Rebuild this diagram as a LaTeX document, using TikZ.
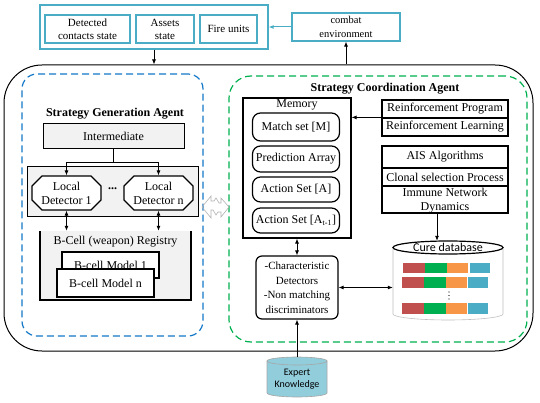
\documentclass[tikz,border=0pt]{standalone}
\usepackage{fontspec}
\setmainfont{Liberation Serif}
\newfontfamily\calib{Carlito}
\usetikzlibrary{shapes.misc,arrows.meta,calc}
\definecolor{teal1}{RGB}{75,172,198}
\definecolor{lgray}{RGB}{242,242,242}
\definecolor{bluedash}{RGB}{20,120,200}
\definecolor{greendash}{RGB}{0,176,80}
\definecolor{cred}{RGB}{192,80,77}
\definecolor{cgreen}{RGB}{0,176,80}
\definecolor{corange}{RGB}{247,150,70}
\definecolor{cblue}{RGB}{75,172,198}
\definecolor{ekc}{RGB}{146,205,220}
\begin{document}
\begin{tikzpicture}[x=1pt,y=-1pt,
  font=\fontsize{12}{14}\selectfont,
  tbox/.style={draw=teal1, line width=1.2pt, inner sep=0pt, align=center, font=\fontsize{11}{13}\selectfont},
  bbox/.style={draw, line width=1.2pt, inner sep=0pt, align=center},
  rbox/.style={bbox, rounded corners=8pt, fill=white},
  title/.style={font=\bfseries\fontsize{12}{14}\selectfont},
  arr/.style={line width=0.8pt, -{Latex[length=5pt,width=4pt]}},
  darr/.style={line width=0.8pt, {Latex[length=5pt,width=4pt]}-{Latex[length=5pt,width=4pt]}},
  bar/.style={draw=black!15, line width=0.4pt}
]
\useasboundingbox (0,0) rectangle (540,403);

% ---- top boxes
\node[draw=teal1, line width=1.2pt, minimum width=228, minimum height=44, inner sep=0] (top) at (154,27) {};
\node[tbox, minimum width=85, minimum height=28] (det) at (87.5,29) {Detected\\contacts state};
\node[tbox, minimum width=58, minimum height=28] (ass) at (165,29) {Assets\\state};
\node[tbox, minimum width=57, minimum height=28] (fire) at (228.5,29) {Fire units};
\node[tbox, minimum width=108, minimum height=28, font=\fontsize{10.5}{13.5}\selectfont] (comb) at (346,27) {combat\\environment};

% ---- main containers
\node[draw, line width=1pt, rounded corners=38pt, minimum width=529, minimum height=286, inner sep=0] (main) at (268.5,208) {};
\node[draw=bluedash, line width=1.2pt, dash pattern=on 7pt off 4pt, rounded corners=15pt, minimum width=181, minimum height=262, inner sep=0] (sga) at (112.5,205) {};
\node[draw=greendash, line width=1.2pt, dash pattern=on 7pt off 4pt, rounded corners=22pt, minimum width=298, minimum height=266, inner sep=0] (sca) at (378,209) {};

\draw[arr] (top.south) -- (top.south |- main.north);
\draw[arr] (comb.south |- main.north) -- (comb.south);
\draw[arr, draw=teal1, line width=1pt] (comb.west) -- (top.east);

% ---- strategy generation agent
\node[title] (sgat) at (115,114) {Strategy Generation Agent};
\node[draw, line width=1pt, fill=lgray, minimum width=141, minimum height=25, inner sep=0] (inter) at (113.5,136.5) {Intermediate};
\node[draw, line width=1pt, fill=lgray, minimum width=171, minimum height=50, inner sep=0] (detc) at (112.5,192) {};
\node[bbox, fill=white, chamfered rectangle, chamfered rectangle xsep=5pt, chamfered rectangle ysep=5pt, minimum width=69, minimum height=34] (ld1) at (66.5,193) {Local\\Detector 1};
\node[bbox, fill=white, chamfered rectangle, chamfered rectangle xsep=5pt, chamfered rectangle ysep=5pt, minimum width=69, minimum height=34] (ldn) at (158.5,193) {Local\\Detector n};
\node (dots) at (112.5,189) {\textbf{...}};
\coordinate (sp) at (113.5,162);
\draw[line width=0.8pt] (inter.south) -- (sp);
\draw[arr] (sp) -| (ld1.north);
\draw[arr] (sp) -| (ldn.north);

\fill[lgray] (40,231) rectangle (191,300);
\draw[line width=1.2pt] (40,231) -- (40,300) -- (191,300) -- (191,231);
\node[minimum width=151, minimum height=69, inner sep=0] (reg) at (115.5,265.5) {};
\node (regt) at (115.5,242) {B-Cell (weapon) Registry};
\draw[darr] (ld1.south) -- (ld1.south |- reg.north);
\draw[darr] (ldn.south) -- (ldn.south |- reg.north);
\node[bbox, fill=white, minimum width=97, minimum height=26] (m1) at (110.5,265) {B-cell Model 1};
\node[bbox, fill=white, minimum width=97, minimum height=28] (mn) at (105.5,283) {B-cell Model n};

% ---- gray zigzag double arrow
\draw[black!30, line width=0.6pt, line join=miter] (202,207) -- (211,196) -- (211,201) -- (214,201) -- (216,198) -- (219,203) -- (221,203) -- (221,198) -- (229,207) -- (221,217) -- (221,212) -- (218,212) -- (216,215) -- (213,210) -- (211,210) -- (211,218) -- cycle;

% ---- strategy coordination agent
\node[title] (scat) at (385,89) {Strategy Coordination Agent};
\node[bbox, minimum width=108, minimum height=140] (mem) at (297,168) {};
\node (memt) at (297,105) {Memory};
\node[rbox, minimum width=87, minimum height=28] (ms) at (296,127) {Match set [M]};
\node[rbox, minimum width=87, minimum height=26] (pa) at (296,159) {Prediction Array};
\node[rbox, minimum width=87, minimum height=25] (as) at (296,189.5) {Action Set [A]};
\node[rbox, minimum width=87, minimum height=25] (at1) at (296,220.5) {Action Set [A\textsubscript{t-1}]};

\node[bbox, minimum width=126, minimum height=18] (rp) at (445,109) {Reinforcement Program};
\node[bbox, minimum width=126, minimum height=18] (rl) at (445,127) {Reinforcement Learning};
\draw[arr] (rl.north west) -- (rl.north west -| mem.east);

\node[bbox, minimum width=126, minimum height=22] (ais1) at (445,157) {AIS Algorithms};
\node[bbox, minimum width=126, minimum height=18] (ais2) at (445,177) {Clonal selection Process};
\node[bbox, minimum width=126, minimum height=27, text depth=0pt] (ais3) at (445,199.5) {Immune Network\\Dynamics};

% cure database
\node[minimum width=110, minimum height=79, inner sep=0] (db) at (448,280.5) {};
\draw[black!25, line width=0.6pt] (393,247.5) -- (393,314) arc[start angle=180, end angle=0, x radius=55, y radius=6] -- (503,247.5);
\draw[line width=1.2pt, fill=white] (448,247.5) ellipse[x radius=55, y radius=6.5];
\node[font=\calib\fontsize{12}{13}\selectfont] (dbt) at (448,247) {Cure database};
\draw[arr] ([xshift=-8pt]ais3.south) -- ([xshift=-8pt]ais3.south |- db.north);

\fill[cred] (403,263) rectangle (425,273);
\fill[cgreen] (425,263) rectangle (447,273);
\fill[corange] (447,263) rectangle (468,273);
\fill[cblue] (470,263) rectangle (490,273);
\foreach \yy in {277,303}{
  \fill[cred] (402,\yy) rectangle (424,\yy+11);
  \fill[cgreen] (424,\yy) rectangle (446,\yy+11);
  \fill[corange] (446,\yy) rectangle (467,\yy+11);
  \fill[cblue] (468,\yy) rectangle (488,\yy+11);
}
\foreach \yy in {292,295.5,299} \fill (449,\yy) circle (0.7);

% characteristic detectors
\node[bbox, rounded corners=6pt, minimum width=82, minimum height=63, font=\fontsize{11}{14.5}\selectfont] (char) at (297,287.5) {-Characteristic\\Detectors\\-Non matching\\discriminators};
\draw[darr] (mem.south) -- (char.north);
\draw[darr] (char.east) -- (char.east -| db.west);

% expert knowledge
\filldraw[fill=ekc, draw=black!35, line width=0.6pt] (267,361) -- (267,393) arc[start angle=180, end angle=0, x radius=30, y radius=4] -- (327,361) -- cycle;
\filldraw[fill=ekc, draw=black!35, line width=0.6pt] (297,361) ellipse[x radius=30, y radius=4];
\node[font=\calib\fontsize{10}{12}\selectfont, align=center, minimum height=40, inner sep=0] (ek) at (297,377) {\\[-1pt]Expert\\Knowledge};
\draw[arr] (ek.north) -- (char.south);
\end{tikzpicture}
\end{document}
